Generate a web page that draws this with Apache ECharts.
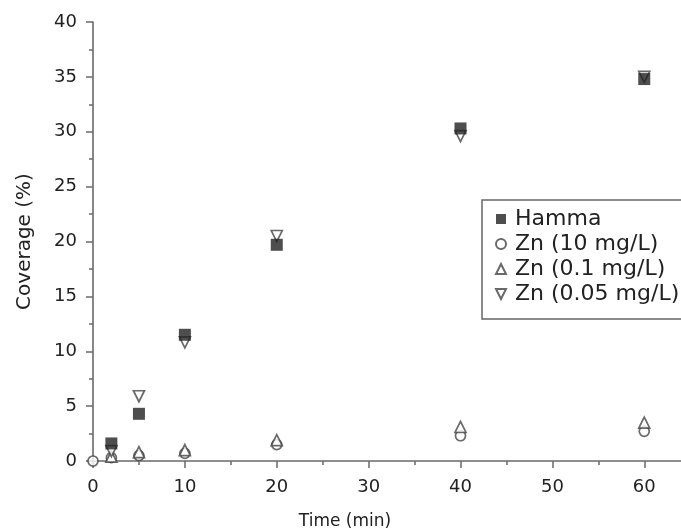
<!DOCTYPE html>
<html>
<head>
<meta charset="utf-8">
<script src="https://cdn.jsdelivr.net/npm/echarts@6/dist/echarts.min.js"></script>
<style>
  html, body { margin: 0; padding: 0; background: #fff; }
  #chart { width: 681px; height: 531px; }
</style>
</head>
<body>
<div id="chart"></div>
<script>
// Sampling times (min)
const times = [0, 2, 5, 10, 20, 40, 60];
// Coverage (%) per condition
const hamma = [null, 1.6, 4.3, 11.5, 19.7, 30.3, 34.8];
const zn10 = [0, 0.3, 0.5, 0.7, 1.5, 2.3, 2.7];
const zn01 = [null, 0.4, 0.8, 1.0, 1.9, 3.1, 3.5];
const zn005 = [null, 0.9, 5.9, 10.8, 20.5, 29.6, 35.0];
const seriesNames = ['Hamma', 'Zn (10 mg/L)', 'Zn (0.1 mg/L)', 'Zn (0.05 mg/L)'];
// Axis ticks
const xTicks = [0, 10, 20, 30, 40, 50, 60];
const xMinorTicks = [5, 15, 25, 35, 45, 55];

const FONT = 'DejaVu Sans';
const TEXT_COLOR = '#222';
const AXIS_COLOR = '#6a6a6a';
const MARK_COLOR = '#444';
const DOWN_TRIANGLE = 'path://M0,0L10,0L5,10Z';

function pairs(values) {
  return times.map((t, i) => [t, values[i]]).filter(p => p[1] !== null);
}

const hollow = { color: '#fff', borderColor: MARK_COLOR, borderWidth: 1.7 };

const chart = echarts.init(document.getElementById('chart'), null, { renderer: 'canvas' });
chart.setOption({
  backgroundColor: '#fff',
  animation: false,
  grid: { left: 93, right: 0, top: 22, bottom: 70, containLabel: false, outerBoundsMode: 'none' },
  xAxis: [{
    type: 'value', min: 0, max: 64, interval: 10,
    name: 'Time (min)', nameLocation: 'middle', nameGap: 52,
    nameTextStyle: { fontFamily: FONT, fontSize: 17, color: TEXT_COLOR, padding: [0, 84, 0, 0] },
    axisLine: { show: true, lineStyle: { color: AXIS_COLOR, width: 1.6 } },
    axisTick: { show: true, customValues: xTicks, length: 7, lineStyle: { color: AXIS_COLOR, width: 1.5 } },
    axisLabel: { customValues: xTicks, margin: 17, fontFamily: FONT, fontSize: 18, color: TEXT_COLOR },
    splitLine: { show: false }
  }, {
    // minor ticks between the labelled ones
    type: 'value', min: 0, max: 64, position: 'bottom', gridIndex: 0,
    axisLine: { show: false },
    axisTick: { show: true, customValues: xMinorTicks, length: 4, lineStyle: { color: AXIS_COLOR, width: 1.5 } },
    axisLabel: { show: false },
    splitLine: { show: false }
  }],
  yAxis: {
    type: 'value', min: 0, max: 40, interval: 5,
    name: 'Coverage (%)', nameLocation: 'middle', nameGap: 58,
    nameTextStyle: { fontFamily: FONT, fontSize: 20, color: TEXT_COLOR },
    axisLine: { show: true, lineStyle: { color: AXIS_COLOR, width: 1.6 } },
    axisTick: { show: true, length: 7, lineStyle: { color: AXIS_COLOR, width: 1.5 } },
    minorTick: { show: true, splitNumber: 2, length: 4, lineStyle: { color: AXIS_COLOR, width: 1.5 } },
    axisLabel: { margin: 16, fontFamily: FONT, fontSize: 18, color: TEXT_COLOR },
    splitLine: { show: false }
  },
  legend: {
    orient: 'vertical', left: 482, top: 200,
    data: seriesNames,
    itemWidth: 10, itemHeight: 10, itemGap: 3,
    padding: [8, 60, 14, 13],
    borderColor: '#666', borderWidth: 1.5,
    selectedMode: false,
    textStyle: { fontFamily: FONT, fontSize: 22, lineHeight: 22, color: TEXT_COLOR, padding: [0, 0, 0, 4] }
  },
  series: [{
    name: seriesNames[0], type: 'scatter', z: 5, clip: false,
    symbol: 'rect', symbolSize: 12,
    itemStyle: { color: '#222', borderColor: '#222', borderWidth: 0 },
    data: pairs(hamma)
  }, {
    name: seriesNames[1], type: 'scatter', z: 2, clip: false,
    symbol: 'circle', symbolSize: 10,
    itemStyle: hollow,
    data: pairs(zn10)
  }, {
    name: seriesNames[2], type: 'scatter', z: 3, clip: false,
    symbol: 'triangle', symbolSize: 11,
    itemStyle: hollow,
    data: pairs(zn01)
  }, {
    name: seriesNames[3], type: 'scatter', z: 4, clip: false,
    symbol: DOWN_TRIANGLE, symbolSize: 11,
    itemStyle: hollow,
    data: pairs(zn005)
  }]
});
</script>
</body>
</html>
